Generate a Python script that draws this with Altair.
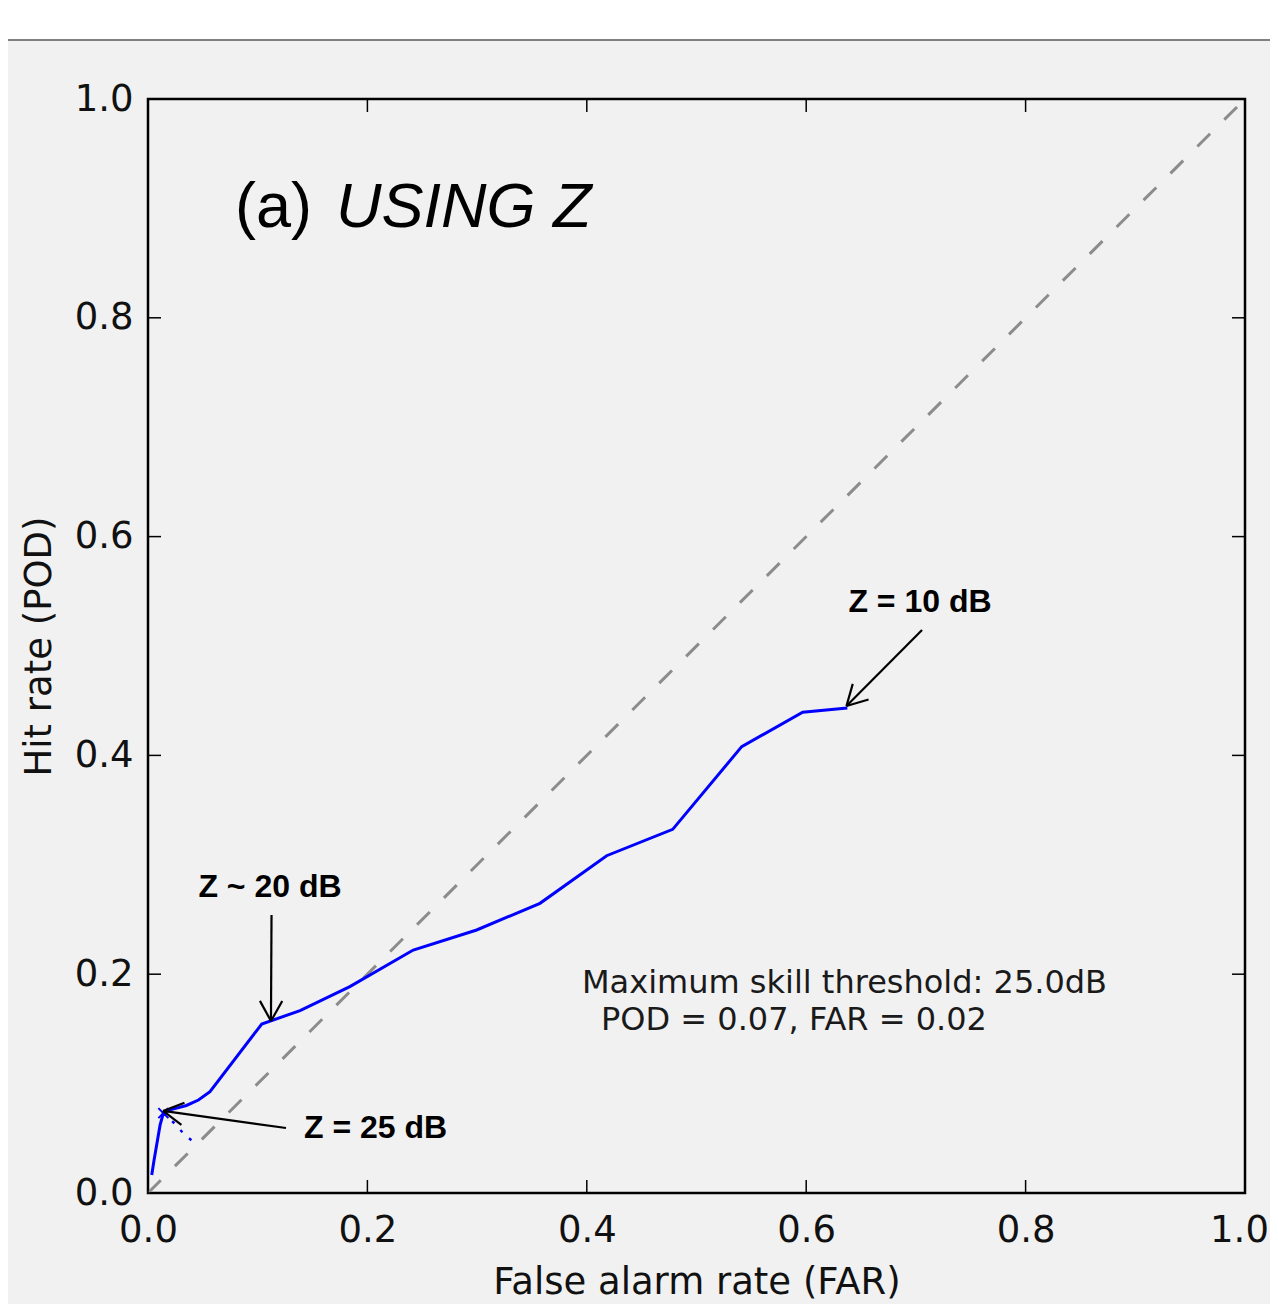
import math
import altair as alt
import pandas as pd

# ---------------- data ----------------
FAR = [0.0034, 0.0055, 0.011, 0.014, 0.020, 0.035, 0.046, 0.0565, 0.1037, 0.1386,
       0.184, 0.2418, 0.2996, 0.3573, 0.4181, 0.4783, 0.5412, 0.5968, 0.6375]
POD = [0.0165, 0.030, 0.062, 0.073, 0.076, 0.080, 0.085, 0.0926, 0.1545, 0.1667,
       0.1886, 0.2221, 0.2404, 0.2648, 0.3083, 0.3324, 0.408, 0.4394, 0.4433]

DOT_FAR = [0.014, 0.0228, 0.0337, 0.0428]
DOT_POD = [0.073, 0.0649, 0.053, 0.0457]

MARK_FAR = [0.014]
MARK_POD = [0.073]

DIAG = [0.0, 1.0]
TICKS = [0.0, 0.2, 0.4, 0.6, 0.8, 1.0]

ANN_TEXT = ["Z = 10 dB", "Z ~ 20 dB", "Z = 25 dB"]
ANN_X = [0.7037, 0.1112, 0.2074]
ANN_Y = [0.5311, 0.2706, 0.0500]

ARROW_X0 = [0.7056, 0.1126, 0.1258]
ARROW_Y0 = [0.5146, 0.2541, 0.0594]
ARROW_X1 = [0.6367, 0.1121, 0.0137]
ARROW_Y1 = [0.4452, 0.1572, 0.0750]

SKILL_LINES = ["Maximum skill threshold: 25.0dB", "POD = 0.07, FAR = 0.02"]
SKILL_X = [0.3956, 0.4130]
SKILL_Y = [0.1825, 0.1490]

TITLE_PARTS = ["(a)", "USING Z"]
TITLE_X = [0.0793, 0.1713]
TITLE_Y = [0.883, 0.883]

# ---------------- layout ----------------
W, H = 1097, 1094
PAD = {"left": 140, "top": 91, "right": 25, "bottom": 111}
BG = "#f1f1f1"
TXT = "#111111"

xscale = alt.Scale(domain=[0, 1], nice=False, zero=False)
yscale = alt.Scale(domain=[0, 1], nice=False, zero=False)

xaxis = alt.Axis(values=TICKS, format=".1f", labelFont="DejaVu Sans", labelFontSize=37,
                 labelColor=TXT, ticks=False, tickSize=0, domain=False, grid=False,
                 labelPadding=48, labelBaseline="alphabetic", labelFlush=False,
                 labelOverlap=False,
                 labelOffset={"condition": {"test": "datum.value >= 1", "value": -6},
                              "value": 0},
                 title="False alarm rate (FAR)",
                 titleFont="DejaVu Sans", titleFontSize=37, titleFontWeight="normal",
                 titleColor=TXT, titleY=100, titleX=W / 2, titleBaseline="alphabetic",
                 titleAlign="center")
yaxis = alt.Axis(values=TICKS, format=".1f", labelFont="DejaVu Sans", labelFontSize=37,
                 labelColor=TXT, ticks=False, tickSize=0, domain=False, grid=False,
                 labelPadding=15, labelAlign="right", labelBaseline="middle",
                 labelFlush=False, labelOverlap=False, title="Hit rate (POD)",
                 titleFont="DejaVu Sans", titleFontSize=37, titleFontWeight="normal",
                 titleColor=TXT, titleX=-98, titleY=H / 2, titleAngle=270,
                 titleBaseline="alphabetic", titleAlign="center")


def X(f):
    return alt.X(f, type="quantitative", scale=xscale, axis=xaxis)


def Y(f):
    return alt.Y(f, type="quantitative", scale=yscale, axis=yaxis)


def X2(f):
    return alt.X2(f)


def Y2(f):
    return alt.Y2(f)


one = pd.DataFrame({"k": [0]})

# top white band with gray separator line
top_white = alt.Chart(one).mark_rect(color="white").encode(
    x=alt.value(-PAD["left"]), x2=alt.value(W + PAD["right"]),
    y=alt.value(-PAD["top"]), y2=alt.value(-60))
top_line = alt.Chart(one).mark_rule(color="#808080", strokeWidth=2).encode(
    x=alt.value(-PAD["left"]), x2=alt.value(W + PAD["right"]), y=alt.value(-59))

# diagonal
diag_df = pd.DataFrame({"x": DIAG, "y": DIAG})
diag = alt.Chart(diag_df).mark_line(color="#8c8c8c", strokeWidth=3,
                                    strokeDash=[18, 20]).encode(x=X("x"), y=Y("y"))

# ROC curve
curve_df = pd.DataFrame({"x": FAR, "y": POD, "i": list(range(len(FAR)))})
curve = alt.Chart(curve_df).mark_line(color="#0000ff", strokeWidth=3).encode(
    x=X("x"), y=Y("y"), order="i:Q")

dot_df = pd.DataFrame({"x": DOT_FAR, "y": DOT_POD, "i": list(range(len(DOT_FAR)))})
dots = alt.Chart(dot_df).mark_line(color="#0000ff", strokeWidth=2.5,
                                   strokeDash=[3, 9]).encode(x=X("x"), y=Y("y"), order="i:Q")

mark_df = pd.DataFrame({"x": MARK_FAR, "y": MARK_POD})
marker = alt.Chart(mark_df).mark_point(shape="M-1,-1L1,1M-1,1L1,-1", filled=False,
                                       color="#0000ff", strokeWidth=2, size=100,
                                       opacity=1).encode(x=X("x"), y=Y("y"))

# arrows
arr_df = pd.DataFrame({"x0": ARROW_X0, "y0": ARROW_Y0, "x1": ARROW_X1, "y1": ARROW_Y1})
shafts = alt.Chart(arr_df).mark_rule(color="black", strokeWidth=2.2).encode(
    x=X("x0"), y=Y("y0"), x2=X2("x1"), y2=Y2("y1"))

wing_rows = []
theta = math.radians(29)
wlen = 23.0
for x0, y0, x1, y1 in zip(ARROW_X0, ARROW_Y0, ARROW_X1, ARROW_Y1):
    dx = (x0 - x1) * W
    dy = (y0 - y1) * H
    L = math.hypot(dx, dy)
    ux, uy = dx / L, dy / L
    for s in (1, -1):
        c, sn = math.cos(s * theta), math.sin(s * theta)
        rx = ux * c - uy * sn
        ry = ux * sn + uy * c
        wing_rows.append({"x0": x1, "y0": y1,
                          "x1": x1 + rx * wlen / W, "y1": y1 + ry * wlen / H})
wing_df = pd.DataFrame(wing_rows)
wings = alt.Chart(wing_df).mark_rule(color="black", strokeWidth=2.2).encode(
    x=X("x0"), y=Y("y0"), x2=X2("x1"), y2=Y2("y1"))

# annotation texts
ann_df = pd.DataFrame({"x": ANN_X, "y": ANN_Y, "t": ANN_TEXT})
ann = alt.Chart(ann_df).mark_text(font="Liberation Sans", fontWeight="bold", fontSize=32,
                                  align="center", baseline="alphabetic",
                                  color="black").encode(x=X("x"), y=Y("y"), text="t:N")

skill_df = pd.DataFrame({"x": SKILL_X, "y": SKILL_Y, "t": SKILL_LINES})
skill = alt.Chart(skill_df).mark_text(font="DejaVu Sans", fontSize=32, align="left",
                                      baseline="alphabetic", color="#1a1a1a").encode(
    x=X("x"), y=Y("y"), text="t:N")

title_a = alt.Chart(pd.DataFrame({"x": TITLE_X[:1], "y": TITLE_Y[:1], "t": TITLE_PARTS[:1]})
                    ).mark_text(font="Liberation Sans", fontSize=63, align="left",
                                baseline="alphabetic", color="black").encode(
    x=X("x"), y=Y("y"), text="t:N")
title_b = alt.Chart(pd.DataFrame({"x": TITLE_X[1:], "y": TITLE_Y[1:], "t": TITLE_PARTS[1:]})
                    ).mark_text(font="Liberation Sans", fontSize=63, fontStyle="italic",
                                align="left", baseline="alphabetic", color="black").encode(
    x=X("x"), y=Y("y"), text="t:N")

# inward ticks on all four sides
tick_df = pd.DataFrame({"v": TICKS})
TL = 13
tb = alt.Chart(tick_df).mark_rule(color="black", strokeWidth=1.5).encode(
    x=X("v"), y=alt.value(H), y2=alt.value(H - TL))
tt = alt.Chart(tick_df).mark_rule(color="black", strokeWidth=1.5).encode(
    x=X("v"), y=alt.value(0), y2=alt.value(TL))
tl = alt.Chart(tick_df).mark_rule(color="black", strokeWidth=1.5).encode(
    y=Y("v"), x=alt.value(0), x2=alt.value(TL))
tr = alt.Chart(tick_df).mark_rule(color="black", strokeWidth=1.5).encode(
    y=Y("v"), x=alt.value(W - TL), x2=alt.value(W))

chart = alt.layer(
    top_white, top_line, diag, curve, dots, marker, shafts, wings,
    ann, skill, title_a, title_b, tb, tt, tl, tr
).properties(
    width=W, height=H, padding=PAD, background=BG,
    autosize=alt.AutoSizeParams(type="none")
).configure_view(
    stroke="black", strokeWidth=2.5, fill=BG
)

chart.save("out.html", embed_options={"renderer": "svg", "actions": False})
